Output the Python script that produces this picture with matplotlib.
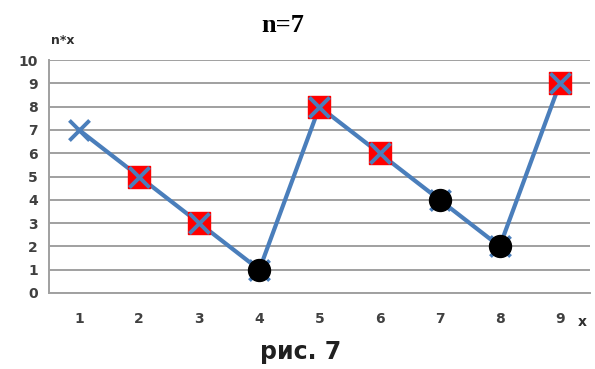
import matplotlib.pyplot as plt
import numpy as np

# данные графика
x_vals = [1, 2, 3, 4, 5, 6, 7, 8, 9]
nx_vals = [7, 5, 3, 1, 8, 6, 4, 2, 9]
red_idx = [1, 2, 4, 5, 8]     # точки с красным квадратом
black_idx = [3, 6, 7]         # точки с чёрным кругом
y_ticks = list(range(0, 11))

fig = plt.figure(figsize=(5.95, 3.69), dpi=100)
ax = fig.add_axes([0.0824, 0.206, 0.909, 0.631])

pos = np.arange(len(x_vals))
vals = np.array(nx_vals)

ax.plot(pos, vals, color='#4a7ebb', lw=3, zorder=3)
ax.scatter(pos[red_idx], vals[red_idx], marker='s', s=230, color='#ff0000', zorder=4)
ax.scatter(pos, vals, marker='x', s=210, color='#4a7ebb', linewidths=2.8, zorder=5)
ax.scatter(pos[black_idx], vals[black_idx], marker='o', s=250, color='black', zorder=6)

ax.set_xlim(-0.5, len(x_vals) - 0.5)
ax.set_ylim(0, 10)
ax.set_yticks(y_ticks)
ax.set_xticks(pos)
ax.set_xticklabels([str(v) for v in x_vals])
ax.grid(axis='y', color='#a0a0a0', lw=1.4)
ax.set_axisbelow(True)
for side in ['top', 'right']:
    ax.spines[side].set_visible(False)
for side in ['left', 'bottom']:
    ax.spines[side].set_color('#a0a0a0')
    ax.spines[side].set_linewidth(1.4)
ax.tick_params(length=0, labelsize=10, colors='#404040')
ax.tick_params(axis='x', pad=14)
ax.tick_params(axis='y', pad=8)
for lbl in ax.get_xticklabels() + ax.get_yticklabels():
    lbl.set_fontweight('bold')

fig.text(0.476, 0.93, 'n=7', ha='center', va='center', fontsize=19,
         fontweight='bold', family='Liberation Serif')
fig.text(0.105, 0.89, 'n*x', ha='center', va='center', fontsize=9,
         fontweight='bold', color='#303030')
fig.text(0.978, 0.128, 'x', ha='center', va='center', fontsize=10,
         fontweight='bold', color='#303030')
fig.text(0.505, 0.045, 'рис. 7', ha='center', va='center', fontsize=17,
         fontweight='bold', color='#202020')

fig.savefig('out.png', dpi=100)
